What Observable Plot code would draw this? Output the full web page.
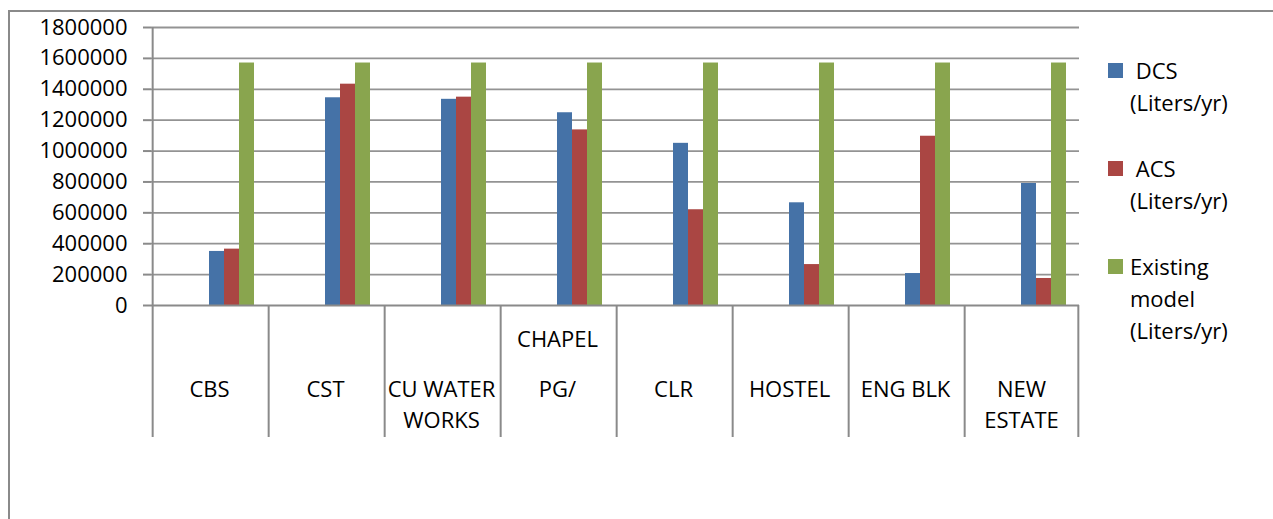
<!DOCTYPE html>
<html>
<head>
<meta charset="utf-8">
<script src="https://cdn.jsdelivr.net/npm/d3@7"></script>
<script src="https://cdn.jsdelivr.net/npm/@observablehq/plot@0.6"></script>
<style>
  html, body { margin: 0; padding: 0; background: #fff; }
  #wrap { position: relative; width: 1273px; height: 519px; overflow: hidden; font-family: "Open Sans", sans-serif; }
  #border { position: absolute; left: 8px; top: 10px; width: 2000px; height: 2000px; border-left: 2px solid #8a8a8a; border-top: 2px solid #8a8a8a; }
  #chart { position: absolute; left: 0; top: 0; }
  #legend { position: absolute; left: 1108px; top: 54px; }
  .item { position: relative; padding-left: 22px; width: 115px; font-size: 22px; line-height: 32px; color: #000; white-space: pre-wrap; margin-bottom: 34px; }
  .sw { position: absolute; left: 0; top: 8.5px; width: 15px; height: 15px; }
</style>
</head>
<body>
<div id="wrap">
  <div id="border"></div>
  <div id="chart"></div>
  <div id="legend"></div>
</div>
<script>
// ---- data ----
const categories = ["CBS", "CST", "CU WATER WORKS", "PG/ CHAPEL", "CLR", "HOSTEL", "ENG BLK", "NEW ESTATE"];
const labelMain  = ["CBS", "CST", "CU WATER\nWORKS", "PG/", "CLR", "HOSTEL", "ENG BLK", "NEW\nESTATE"];
const labelAbove = ["", "", "", "CHAPEL", "", "", "", ""];
const seriesNames = [" DCS (Liters/yr)", " ACS (Liters/yr)", "Existing model (Liters/yr)"];
const seriesColors = ["#4572A7", "#AA4643", "#89A54E"];
const dcs      = [350000, 1345000, 1335000, 1248000, 1050000, 665000, 207000, 790000];
const acs      = [365000, 1433000, 1349000, 1137000, 620000, 265000, 1096000, 175000];
const existing = [1570000, 1570000, 1570000, 1570000, 1570000, 1570000, 1570000, 1570000];
const yTicks = [0, 200000, 400000, 600000, 800000, 1000000, 1200000, 1400000, 1600000, 1800000];
// three empty series precede the visible ones (as in the source spreadsheet)
const emptySlots = ["_e1", "_e2", "_e3"];

// ---- build table ----
const seriesValues = [dcs, acs, existing];
const rows = categories.flatMap((c, i) => seriesNames.map((s, k) => ({cat: c, series: s, value: seriesValues[k][i]})));
const slots = [...emptySlots, ...seriesNames];
const mainLabels = categories.map((c, i) => ({cat: c, t: labelMain[i]}));
const aboveLabels = categories.map((c, i) => ({cat: c, t: labelAbove[i]})).filter(d => d.t);

const W = 1090, H = 519, mL = 151, mR = 11, mT = 27, mB = 214;
const facetW = (W - mL - mR) / categories.length;
const edge = facetW / 6;            // from centre of first/last slot to facet edge
const plotH = H - mT - mB;
const below = 132;                  // category divider length under the axis
const gray = "#8a8a8a";

const chart = Plot.plot({
  width: W, height: H,
  marginLeft: mL, marginRight: mR, marginTop: mT, marginBottom: mB,
  style: {fontFamily: "'Open Sans', sans-serif", fontSize: "22px", color: "black", background: "transparent", overflow: "visible"},
  fx: {domain: categories, padding: 0, axis: null},
  x: {domain: slots, paddingInner: 0, paddingOuter: 0.75, axis: null},
  y: {domain: [0, 1800000], axis: null},
  color: {domain: seriesNames, range: seriesColors},
  marks: [
    Plot.ruleY(yTicks.slice(1), {stroke: "#939393", strokeWidth: 1.8}),
    Plot.barY(rows, {fx: "cat", x: "series", y: "value", fill: "series"}),
    Plot.ruleY([0], {stroke: gray, strokeWidth: 2.2}),
    Plot.axisY({ticks: yTicks, tickSize: 8, tickPadding: 16, tickFormat: d3.format("d"), label: null,
                stroke: gray, strokeWidth: 2, fill: "black", fontSize: 22}),
    Plot.ruleX([categories[0]], {fx: d => d, x: () => slots[0], dx: -edge, insetBottom: -below, stroke: gray, strokeWidth: 2}),
    Plot.ruleX(categories.slice(1), {fx: d => d, x: () => slots[0], dx: -edge, insetTop: plotH, insetBottom: -below, stroke: gray, strokeWidth: 2}),
    Plot.ruleX([categories[categories.length - 1]], {fx: d => d, x: () => slots[slots.length - 1], dx: edge, insetTop: plotH, insetBottom: -below, stroke: gray, strokeWidth: 2}),
    Plot.text(mainLabels, {fx: "cat", text: "t", frameAnchor: "bottom", lineAnchor: "top", dy: 69, lineHeight: 1.43, fontSize: 22, fill: "black"}),
    Plot.text(aboveLabels, {fx: "cat", text: "t", frameAnchor: "bottom", lineAnchor: "top", dy: 26, fontSize: 22, fill: "black"})
  ]
});
document.getElementById("chart").appendChild(chart);

// ---- legend ----
const legend = document.getElementById("legend");
seriesNames.forEach((name, k) => {
  const item = document.createElement("div");
  item.className = "item";
  const sw = document.createElement("span");
  sw.className = "sw";
  sw.style.background = seriesColors[k];
  item.appendChild(sw);
  item.appendChild(document.createTextNode(name));
  legend.appendChild(item);
});
</script>
</body>
</html>
